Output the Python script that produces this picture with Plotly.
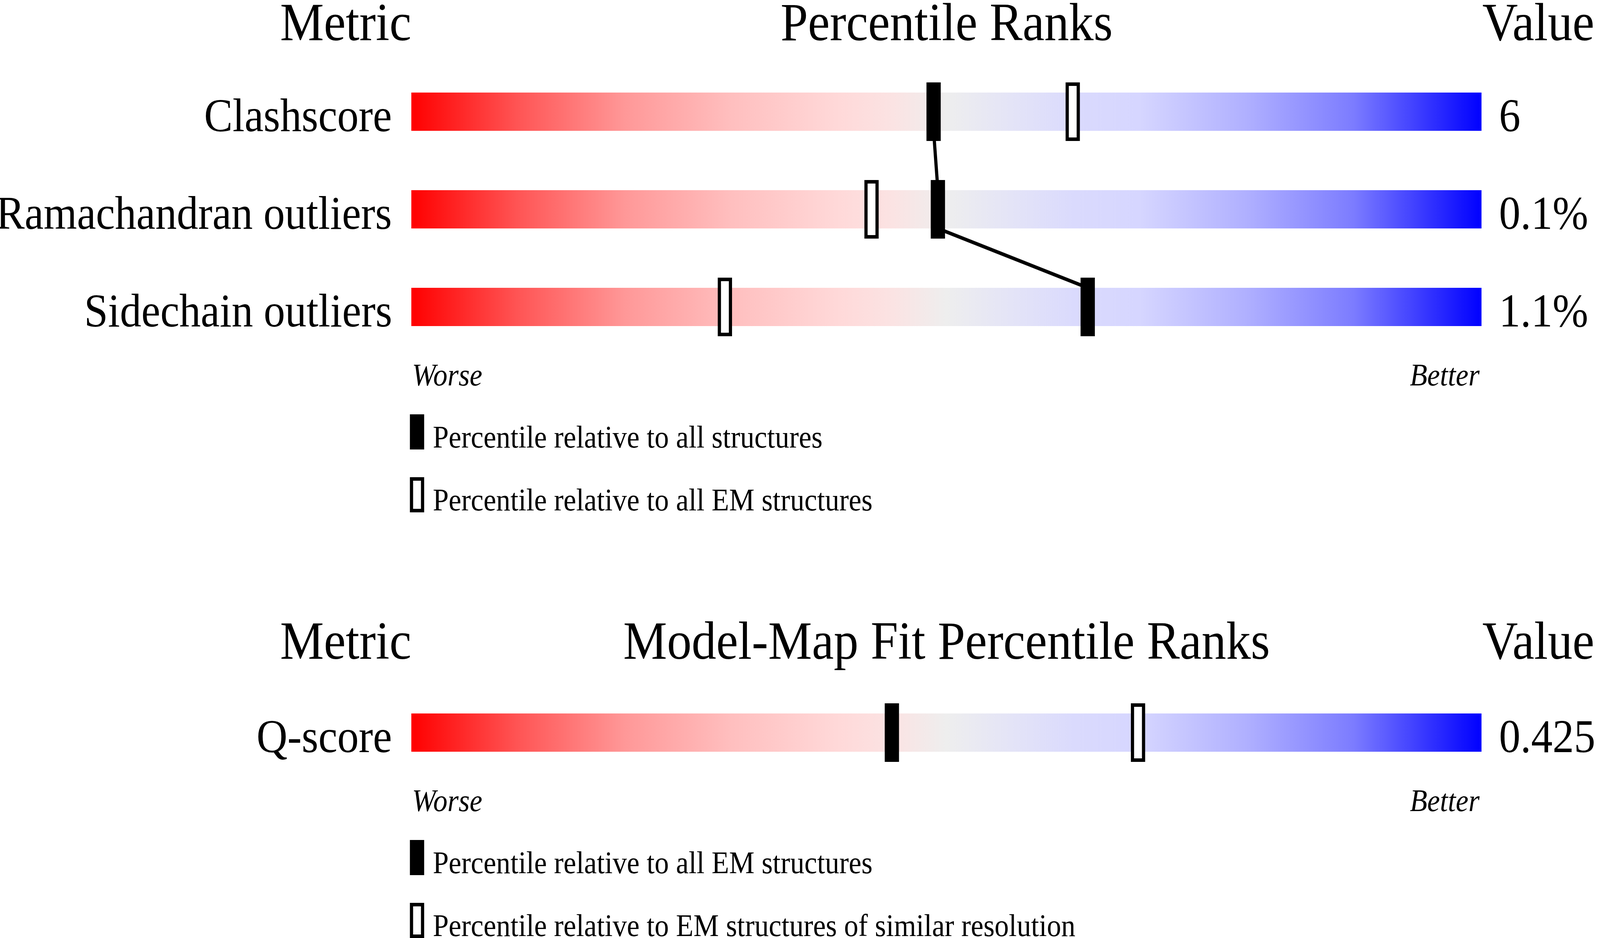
import plotly.graph_objects as go

# ---- data ----
metrics_top = ["Clashscore", "Ramachandran outliers", "Sidechain outliers"]
values_top = ["6", "0.1%", "1.1%"]
pct_all = [48.8, 49.2, 63.2]        # percentile relative to all structures
pct_em = [61.8, 43.0, 29.3]         # percentile relative to all EM structures

metrics_fit = ["Q-score"]
values_fit = ["0.425"]
pct_fit_em = [44.9]                 # relative to all EM structures
pct_fit_res = [67.9]                # relative to EM structures of similar resolution

legend_top = ["Percentile relative to all structures",
              "Percentile relative to all EM structures"]
legend_fit = ["Percentile relative to all EM structures",
              "Percentile relative to EM structures of similar resolution"]

# ---- layout constants (pixels) ----
W, H = 4485, 2402
BAR_L, BAR_R = 1153, 4153
ROW_PX = 250
TOP_ROW0, FIT_ROW0 = 286, 1876
SPLIT = 1050
HALF = 0.196          # bar half height, rows
MH = 0.30             # marker half height
MW = 20 / 30          # marker half width, percentile units
FONT = "Liberation Serif"

gradient = [[0.00, "#ff0000"], [0.10, "#ff5555"], [0.20, "#ff9898"],
            [0.30, "#ffbfbf"], [0.40, "#ffd9d9"], [0.45, "#fbe3e3"],
            [0.50, "#eeeeee"], [0.56, "#e4e4f7"], [0.62, "#dadafd"],
            [0.68, "#d6d6ff"], [0.78, "#b0b0ff"], [0.88, "#7c7cff"],
            [1.00, "#0000ff"]]


def px(x):
    return x / W


def py(y):
    return 1 - y / H


fig = go.Figure()


def add_bar(row, yref):
    fig.add_trace(go.Scatter(
        x=[0, 100, 100, 0, 0],
        y=[row - HALF, row - HALF, row + HALF, row + HALF, row - HALF],
        mode="lines", fill="toself", line=dict(width=0, color="rgba(0,0,0,0)"),
        fillgradient=dict(type="horizontal", colorscale=gradient),
        hoverinfo="skip", showlegend=False, xaxis="x", yaxis=yref))


def add_marker(p, row, yref, filled):
    if filled:
        fig.add_shape(type="rect", xref="x", yref=yref,
                      x0=p - MW, x1=p + MW, y0=row - MH, y1=row + MH,
                      fillcolor="black", line=dict(width=0))
    else:
        fig.add_shape(type="rect", xref="x", yref=yref,
                      x0=p - MW + 0.15, x1=p + MW - 0.15,
                      y0=row - MH + 0.018, y1=row + MH - 0.018,
                      fillcolor="white", line=dict(width=9, color="black"))


for i in range(len(metrics_top)):
    add_bar(i, "y")
add_bar(0, "y2")

# line joining the "all structures" markers, bar edge to bar edge
lx, ly = [], []
for i, p in enumerate(pct_all):
    if i > 0:
        lx.append(p)
        ly.append(i - HALF)
    if i < len(pct_all) - 1:
        lx.append(p)
        ly.append(i + HALF)
fig.add_trace(go.Scatter(x=lx, y=ly, mode="lines",
                         line=dict(color="black", width=9),
                         hoverinfo="skip", showlegend=False))

for i in range(len(metrics_top)):
    add_marker(pct_em[i], i, "y", False)
    add_marker(pct_all[i], i, "y", True)
for i in range(len(metrics_fit)):
    add_marker(pct_fit_res[i], i, "y2", False)
    add_marker(pct_fit_em[i], i, "y2", True)

ann = []


def text(t, x, y, size, anchor, yref="paper", italic=False):
    ann.append(dict(text=t, x=x, y=y, xref="paper", yref=yref,
                    xanchor=anchor, yanchor="middle", showarrow=False,
                    font=dict(family=FONT, size=size, color="black",
                              style="italic" if italic else "normal")))


# headers
for cy, title in [(57, "Percentile Ranks"), (1640, "Model-Map Fit Percentile Ranks")]:
    text("Metric", px(BAR_L + 2), py(cy), 138, "right")
    text(title, px((BAR_L + BAR_R) / 2), py(cy), 138, "center")
    text("Value", px(BAR_R), py(cy), 138, "left")

# row labels and values
for names, vals, yref in [(metrics_top, values_top, "y"), (metrics_fit, values_fit, "y2")]:
    for i, (n, v) in enumerate(zip(names, vals)):
        text(n, px(1101), i + 0.036, 120, "right", yref=yref)
        text(v, px(4200), i + 0.036, 120, "left", yref=yref)

# worse / better
for cy in [960, 2050]:
    text("Worse", px(1153), py(cy), 80, "left", italic=True)
    text("Better", px(4150), py(cy), 80, "right", italic=True)

# legends
for labels, rows in [(legend_top, [1106, 1267]), (legend_fit, [2196, 2357])]:
    for k, (lab, cy) in enumerate(zip(labels, rows)):
        if k == 0:
            fig.add_shape(type="rect", xref="paper", yref="paper",
                          x0=px(1149), x1=px(1189), y0=py(cy - 45), y1=py(cy + 45),
                          fillcolor="black", line=dict(width=0))
        else:
            fig.add_shape(type="rect", xref="paper", yref="paper",
                          x0=px(1153.5), x1=px(1184.5), y0=py(cy - 40.5), y1=py(cy + 40.5),
                          fillcolor="white", line=dict(width=9, color="black"))
        text(lab, px(1211), py(cy + 13), 80, "left")

top_lo = -TOP_ROW0 / ROW_PX
top_hi = (SPLIT - TOP_ROW0) / ROW_PX
fit_lo = (SPLIT - FIT_ROW0) / ROW_PX
fit_hi = (H - FIT_ROW0) / ROW_PX

fig.update_layout(
    width=W, height=H,
    margin=dict(l=0, r=0, t=0, b=0),
    paper_bgcolor="white", plot_bgcolor="white",
    showlegend=False,
    annotations=ann,
    xaxis=dict(domain=[px(BAR_L), px(BAR_R)], range=[0, 100], visible=False, fixedrange=True),
    yaxis=dict(domain=[py(SPLIT), 1], range=[top_hi, top_lo], visible=False, anchor="x"),
    yaxis2=dict(domain=[0, py(SPLIT)], range=[fit_hi, fit_lo], visible=False, anchor="x"),
)

# the browser caps the viewport width (4096), so stretch the figure to fill it
fit_js = """
document.documentElement.style.margin = '0';
document.body.style.margin = '0';
document.documentElement.style.overflow = 'hidden';
document.body.style.overflow = 'hidden';
var gd = document.querySelector('.plotly-graph-div');
var sx = window.innerWidth / %d, sy = window.innerHeight / %d;
gd.style.transformOrigin = '0 0';
gd.style.transform = 'scale(' + sx + ',' + sy + ')';
""" % (W, H)
fig.write_html("out.html", config={"displayModeBar": False}, post_script=fit_js)
